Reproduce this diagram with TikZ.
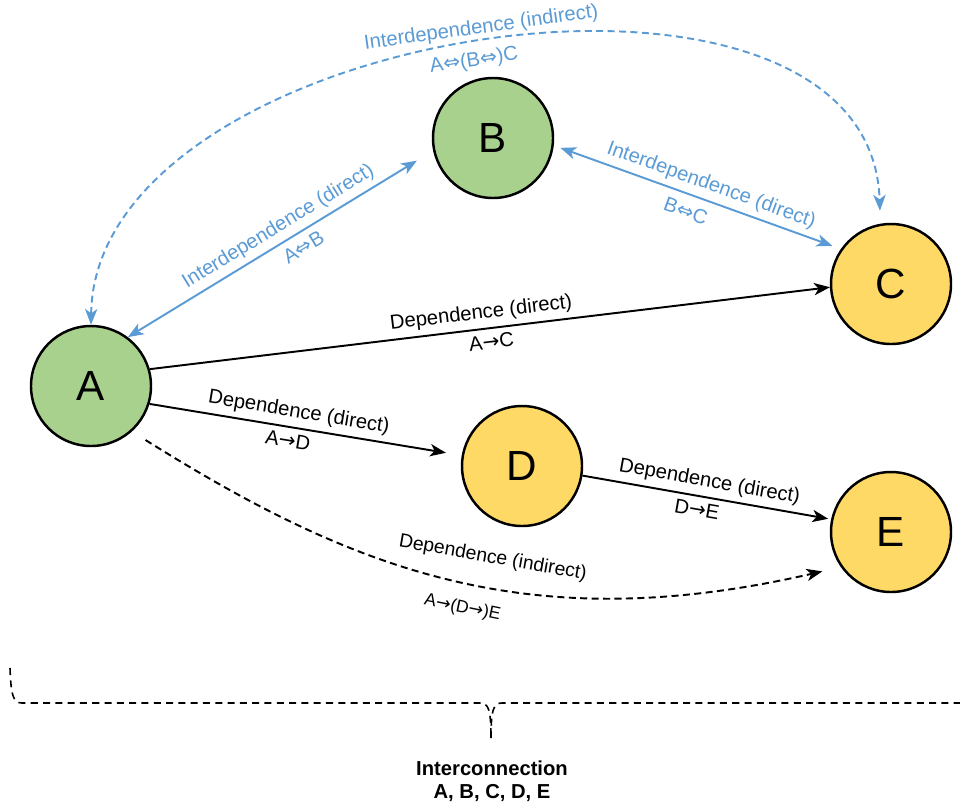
\documentclass[tikz,border=0pt]{standalone}
\usepackage{fontspec}
\setmainfont{Liberation Sans}
\newfontfamily\symfont{DejaVu Sans}
\usetikzlibrary{%
  arrows.meta,%
  positioning% wg. " of "
}
\definecolor{nodegreen}{HTML}{A9D18E}
\definecolor{nodeyellow}{HTML}{FFD966}
\definecolor{linkblue}{HTML}{5B9BD5}
\newcommand{\bothways}{{\symfont ⇔}}
\newcommand{\oneway}{{\symfont →}}

\begin{document}
\begin{tikzpicture}
[x=0.2mm, y=-0.2mm, line width=1.1pt,
actor/.style={circle, draw=black, line width=1.4pt, inner sep=0pt, minimum size=2.4cm, font=\fontsize{24}{28}\selectfont},
actorg/.style={actor, fill=nodegreen},
actory/.style={actor, fill=nodeyellow},
dep/.style={draw=black, -{Stealth[length=9pt,width=7pt,inset=2.5pt]}},
interdep/.style={draw=linkblue, {Stealth[length=9pt,width=7pt,inset=2.5pt]}-{Stealth[length=9pt,width=7pt,inset=2.5pt]}},
ind/.style={dash pattern=on 4pt off 2.5pt},
lbl/.style={font=\fontsize{11.5}{13}\selectfont, inner sep=3pt},
lblb/.style={lbl, text=linkblue},
brace/.style={draw=black, line width=0.9pt, dash pattern=on 4pt off 3pt}
]
\useasboundingbox (0,0) rectangle (960,803);

\node[actorg] (a) at (91,386) {A};
\node[actorg] (b) at (493,138) {B};
\node[actory] (c) at (891,284) {C};
\node[actory] (d) at (522,466) {D};
\node[actory] (e) at (891,532) {E};

% interdependence
\draw[interdep, shorten >=0.38cm] (a.53) -- (b.192)
  node[lblb, pos=0.52, sloped, above] (iab) {Interdependence (direct)}
  node[lblb, pos=0.55, sloped, below=1pt] (iabsym) {A\bothways B};
\draw[interdep, shorten <=0.14cm, shorten >=0.18cm] (b.-7) -- (c.145.5)
  node[lblb, pos=0.53, sloped, above] (ibc) {Interdependence (direct)}
  node[lblb, pos=0.48, sloped, below=2pt] (ibcsym) {B\bothways C};
\draw[interdep, ind, shorten >=0.26cm] (a.90) .. controls +(4,-300) and +(-10,-315) .. (c.100)
  node[lblb, pos=0.5, sloped, above] (iac) {Interdependence (indirect)}
  node[lblb, pos=0.49, sloped, below] (iacsym) {A\bothways(B\bothways)C};

% dependence
\draw[dep] (a.16) -- (c.183)
  node[lbl, pos=0.49, sloped, above] (dac) {Dependence (direct)}
  node[lbl, pos=0.50, sloped, below] (dacsym) {A\oneway C};
\draw[dep, shorten >=0.32cm] (a.-17) -- (d.170)
  node[lbl, pos=0.47, sloped, above] (dad) {Dependence (direct)}
  node[lbl, pos=0.45, sloped, below] (dadsym) {A\oneway D};
\draw[dep, shorten >=0.06cm] (d.-9) -- (e.168)
  node[lbl, pos=0.5, sloped, above] (dde) {Dependence (direct)}
  node[lbl, pos=0.47, sloped, below] (ddesym) {D\oneway E};
\draw[dep, ind, shorten <=0.32cm, shorten >=0.38cm] (a.-48) .. controls +(225,141) and +(-310,71) .. (e.215)
  node[lbl, font=\fontsize{11}{13}\selectfont, pos=0.55, sloped, above=0.25cm] (dae) {Dependence (indirect)}
  node[lbl, font=\fontsize{10}{12}\selectfont, pos=0.52, sloped, below=0.25cm] (daesym) {A\oneway(D\oneway)E};

% interconnection
\draw[brace] (10,668) .. controls (11,695) and (13,703) .. (22,703) -- (480,703)
  .. controls (488,703) and (491,708) .. (491,738);
\draw[brace] (491,738) .. controls (491,708) and (494,703) .. (502,703) -- (960,703)
  .. controls (969,703) and (971,695) .. (972,668);
\node[font=\bfseries\fontsize{11.5}{13}\selectfont, align=center] (interconn) at (492,781) {Interconnection\\A, B, C, D, E};
\end{tikzpicture}
\end{document}
